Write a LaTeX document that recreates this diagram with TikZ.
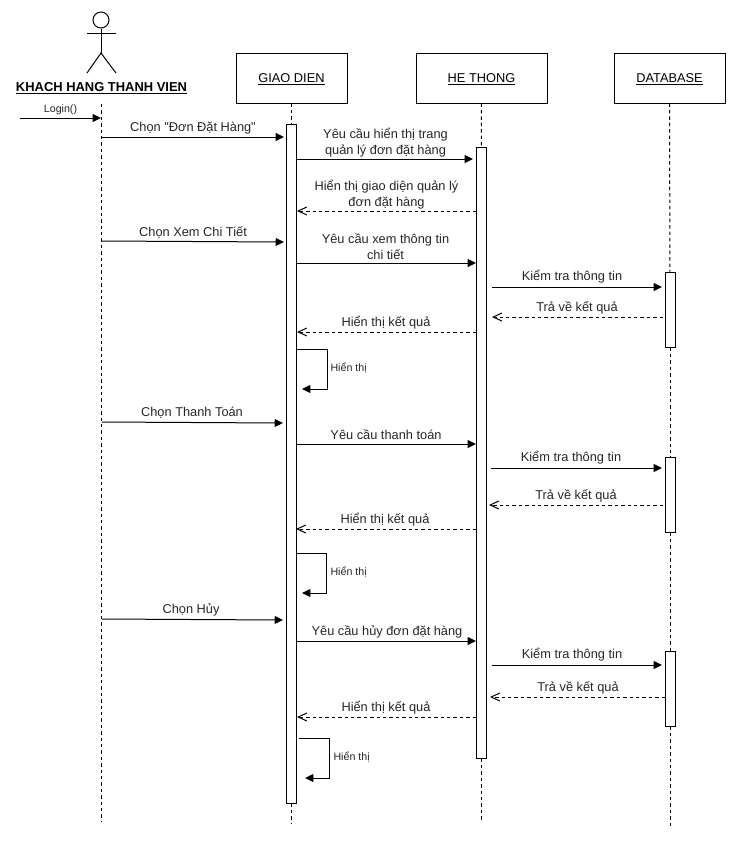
\documentclass[tikz,border=0pt]{standalone}
\usepackage{fontspec}
\setmainfont{Liberation Sans}[Ligatures=TeXOff]
\usetikzlibrary{arrows.meta, positioning, calc}

\begin{document}
\begin{tikzpicture}[x=0.75pt, y=-0.75pt, line width=0.75pt,
          headbox/.style={rectangle, draw=black, fill=white, minimum width=83.25pt, minimum height=37.5pt, text depth=0pt, font=\fontsize{9.6}{11}\selectfont},
          actbox/.style={rectangle, draw=black, fill=white, minimum width=7.5pt, inner sep=0pt},
          msgtext/.style={inner sep=0pt, align=center, yshift=-1.5pt, text=black!85, font=\fontsize{9.6}{12}\selectfont},
          selftext/.style={inner sep=0pt, anchor=west, yshift=-0.75pt, text=black!85, font=\fontsize{8}{10}\selectfont},
          lifeline/.style={dash pattern=on 2.6pt off 2.2pt},
          callarrow/.style={-{Triangle[length=6.2pt, width=5.8pt]}},
          backarrow/.style={-{Straight Barb[length=6.5pt, width=6pt]}, dash pattern=on 2.6pt off 2.2pt}]

        \useasboundingbox (0,0) rectangle (740,844);

        % actor
        \node [circle, draw=black, minimum size=12pt, inner sep=0pt] (head) at (101,20) {};
        \coordinate (neck) at (101,53);
        \coordinate (armL) at (87,33);
        \coordinate (armR) at (116,33);
        \coordinate (legL) at (87,73);
        \coordinate (legR) at (116,73);
        \draw (head) -- (neck);
        \draw (armL) -- (armR);
        \draw (legL) -- (neck) -- (legR);
        \node [inner sep=0pt, font=\fontsize{9.7}{11}\selectfont\bfseries] (khach) at (101.5,88) {\underline{KHACH HANG THANH VIEN}};

        % header boxes
        \node [headbox] (giaodien) at (291.5,78) {\underline{GIAO DIEN}};
        \node [headbox, minimum width=98.25pt] (hethong) at (481.5,78) {\underline{HE THONG}};
        \node [headbox] (database) at (669.5,78) {\underline{DATABASE}};

        % activation bars
        \node [actbox, minimum height=509.25pt] (giaoact) at (291.5,463.5) {};
        \node [actbox, minimum height=458.25pt] (heact) at (481,452.5) {};
        \node [actbox, minimum height=56.25pt] (dbactA) at (670,309.5) {};
        \node [actbox, minimum height=56.25pt] (dbactB) at (670,494.5) {};
        \node [actbox, minimum height=56.25pt] (dbactC) at (670,688.5) {};

        % lifelines
        \coordinate (khachtop) at (101,104);
        \coordinate (khachend) at (101,822);
        \coordinate (giaoend) at (291.5,823);
        \coordinate (heend) at (481,822);
        \coordinate (dbend) at (670,827);
        \draw [lifeline] (khachtop) -- (khachend);
        \draw [lifeline] (giaodien) -- (giaoact);
        \draw [lifeline] (giaoact) -- (giaoend);
        \draw [lifeline] (hethong) -- (heact);
        \draw [lifeline] (heact) -- (heend);
        \draw [lifeline] (database) -- (dbactA);
        \draw [lifeline] (dbactA) -- (dbactB);
        \draw [lifeline] (dbactB) -- (dbactC);
        \draw [lifeline] (dbactC) -- (dbend);

        % login and first request
        \coordinate (loginS) at (20,118);
        \coordinate (loginE) at (101,118);
        \node [msgtext, font=\fontsize{8}{10}\selectfont] (loginT) at (60.5,108) {Login()};
        \draw [callarrow] (loginS) -- (loginE);

        \coordinate (donS) at (102,137);
        \coordinate (donE) at (284,137);
        \node [msgtext] (donT) at (193,126) {Chọn "Đơn Đặt Hàng"};
        \draw [callarrow] (donS) -- (donE);

        \coordinate (qlS) at (297,159);
        \coordinate (qlE) at (473,159);
        \node [msgtext] (qlT) at (385.5,141) {Yêu cầu hiển thị trang\\quản lý đơn đặt hàng};
        \draw [callarrow] (qlS) -- (qlE);

        \coordinate (qlbS) at (476,211);
        \coordinate (qlbE) at (297,211);
        \node [msgtext] (qlbT) at (386.5,193) {Hiển thị giao diện quản lý\\đơn đặt hàng};
        \draw [backarrow] (qlbS) -- (qlbE);

        % xem chi tiet
        \coordinate (xemS) at (102,241);
        \coordinate (xemE) at (284,242);
        \node [msgtext] (xemT) at (193,231) {Chọn Xem Chi Tiết};
        \draw [callarrow] (xemS) -- (xemE);

        \coordinate (xemhS) at (297,263);
        \coordinate (xemhE) at (476,263);
        \node [msgtext] (xemhT) at (385.5,245) {Yêu cầu xem thông tin\\chi tiết};
        \draw [callarrow] (xemhS) -- (xemhE);

        \coordinate (ktaS) at (492,287);
        \coordinate (ktaE) at (662,287);
        \node [msgtext] (ktaT) at (572,275) {Kiểm tra thông tin};
        \draw [callarrow] (ktaS) -- (ktaE);

        \coordinate (traaS) at (663,317);
        \coordinate (traaE) at (492,317);
        \node [msgtext] (traaT) at (577,306) {Trả về kết quả};
        \draw [backarrow] (traaS) -- (traaE);

        \coordinate (kqaS) at (476,332);
        \coordinate (kqaE) at (297,332);
        \node [msgtext] (kqaT) at (386,321) {Hiển thị kết quả};
        \draw [backarrow] (kqaS) -- (kqaE);

        \coordinate (selfaS) at (297,349);
        \coordinate (selfaM) at (327,349);
        \coordinate (selfaN) at (327,389);
        \coordinate (selfaE) at (302,389);
        \node [selftext] (selfaT) at (330,367) {Hiển thị};
        \draw [callarrow] (selfaS) -- (selfaM) -- (selfaN) -- (selfaE);

        % thanh toan
        \coordinate (ttS) at (102,422);
        \coordinate (ttE) at (283,423);
        \node [msgtext] (ttT) at (192,411) {Chọn Thanh Toán};
        \draw [callarrow] (ttS) -- (ttE);

        \coordinate (tthS) at (297,444);
        \coordinate (tthE) at (476,444);
        \node [msgtext] (tthT) at (386,433) {Yêu cầu thanh toán};
        \draw [callarrow] (tthS) -- (tthE);

        \coordinate (ktbS) at (491,468);
        \coordinate (ktbE) at (662,468);
        \node [msgtext] (ktbT) at (571,456) {Kiểm tra thông tin};
        \draw [callarrow] (ktbS) -- (ktbE);

        \coordinate (trabS) at (663,505);
        \coordinate (trabE) at (489,505);
        \node [msgtext] (trabT) at (576,494) {Trả về kết quả};
        \draw [backarrow] (trabS) -- (trabE);

        \coordinate (kqbS) at (476,529);
        \coordinate (kqbE) at (296,529);
        \node [msgtext] (kqbT) at (385,518) {Hiển thị kết quả};
        \draw [backarrow] (kqbS) -- (kqbE);

        \coordinate (selfbS) at (297,553);
        \coordinate (selfbM) at (326,553);
        \coordinate (selfbN) at (326,593);
        \coordinate (selfbE) at (302,593);
        \node [selftext] (selfbT) at (330,571) {Hiển thị};
        \draw [callarrow] (selfbS) -- (selfbM) -- (selfbN) -- (selfbE);

        % huy
        \coordinate (huyS) at (102,619);
        \coordinate (huyE) at (283,620);
        \node [msgtext] (huyT) at (191,608) {Chọn Hủy};
        \draw [callarrow] (huyS) -- (huyE);

        \coordinate (huyhS) at (297,641);
        \coordinate (huyhE) at (476,641);
        \node [msgtext] (huyhT) at (387,630) {Yêu cầu hủy đơn đặt hàng};
        \draw [callarrow] (huyhS) -- (huyhE);

        \coordinate (ktcS) at (492,665);
        \coordinate (ktcE) at (662,665);
        \node [msgtext] (ktcT) at (572,653) {Kiểm tra thông tin};
        \draw [callarrow] (ktcS) -- (ktcE);

        \coordinate (tracS) at (665,697);
        \coordinate (tracE) at (490,697);
        \node [msgtext] (tracT) at (578,686) {Trả về kết quả};
        \draw [backarrow] (tracS) -- (tracE);

        \coordinate (kqcS) at (476,717);
        \coordinate (kqcE) at (297,717);
        \node [msgtext] (kqcT) at (386,706) {Hiển thị kết quả};
        \draw [backarrow] (kqcS) -- (kqcE);

        \coordinate (selfcS) at (299,738);
        \coordinate (selfcM) at (329,738);
        \coordinate (selfcN) at (329,778);
        \coordinate (selfcE) at (305,778);
        \node [selftext] (selfcT) at (333,756) {Hiển thị};
        \draw [callarrow] (selfcS) -- (selfcM) -- (selfcN) -- (selfcE);
      \end{tikzpicture}
\end{document}
